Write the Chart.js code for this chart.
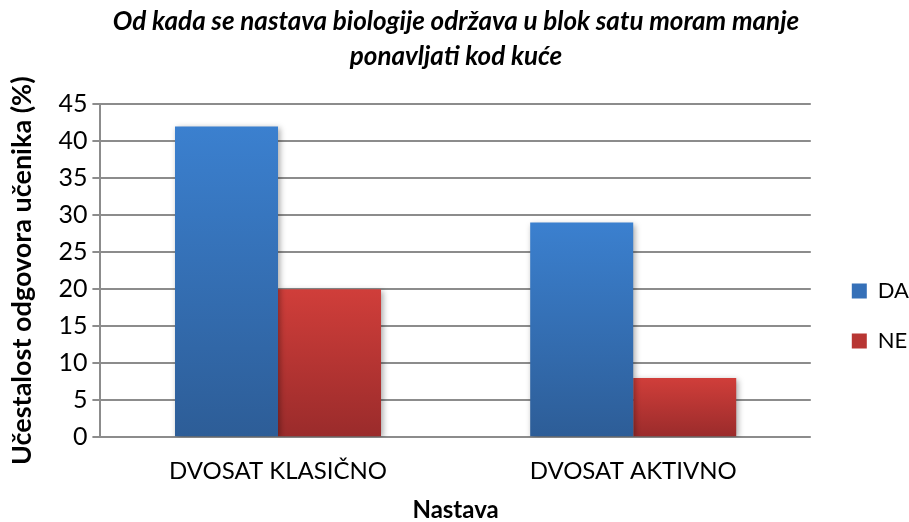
<!DOCTYPE html>
<html>
<head>
<meta charset="utf-8">
<script src="https://cdn.jsdelivr.net/npm/chart.js@4"></script>
<style>
  html, body { margin: 0; padding: 0; background: #fff; }
  #wrap { width: 909px; height: 522px; }
</style>
</head>
<body>
<div id="wrap"><canvas id="myChart" width="909" height="522"></canvas></div>
<script>
var categories = ["DVOSAT KLASIČNO", "DVOSAT AKTIVNO"];
var daValues = [42, 29];
var neValues = [20, 8];
var seriesNames = ["DA", "NE"];

var fontName = "Lato, 'Liberation Sans', sans-serif";

// each bar gets its own top-to-bottom gradient
function makeGradient(top, bottom) {
    return function(context) {
        var chart = context.chart;
        var y = chart.scales && chart.scales.y;
        if (!chart.chartArea || !y || context.raw === undefined) return top;
        var yTop = y.getPixelForValue(context.raw);
        var yBottom = y.getPixelForValue(0);
        if (!isFinite(yTop) || !isFinite(yBottom) || yTop === yBottom) return top;
        var g = chart.ctx.createLinearGradient(0, yTop, 0, yBottom);
        g.addColorStop(0, top);
        g.addColorStop(1, bottom);
        return g;
    };
}

var shadowPlugin = {
    id: "barShadow",
    beforeDatasetsDraw: function(chart) {
        var ctx = chart.ctx;
        ctx.save();
        ctx.shadowColor = "rgba(0,0,0,0.35)";
        ctx.shadowBlur = 6;
        ctx.shadowOffsetX = 2;
        ctx.shadowOffsetY = 2;
    },
    afterDatasetsDraw: function(chart) {
        chart.ctx.restore();
    }
};

// nudge the legend to where the original one sits
var legendMove = {
    id: "legendMove",
    afterLayout: function(chart) {
        var lg = chart.legend;
        lg.left += 13;
        lg.right += 13;
        lg.top += 55;
        lg.bottom += 55;
    }
};

var ctx = document.getElementById("myChart").getContext("2d");
var myChart = new Chart(ctx, {
    type: "bar",
    data: {
        labels: categories,
        datasets: [{
            label: seriesNames[0],
            data: daValues,
            backgroundColor: makeGradient("#3b80cf", "#2d5d97"),
            borderWidth: 0
        }, {
            label: seriesNames[1],
            data: neValues,
            backgroundColor: makeGradient("#d03e3a", "#9a2b2b"),
            borderWidth: 0
        }]
    },
    options: {
        responsive: false,
        animation: false,
        layout: { padding: { left: 6, right: 3, top: 0, bottom: 0 } },
        datasets: {
            bar: { barPercentage: 1.0, categoryPercentage: 0.58 }
        },
        plugins: {
            title: {
                display: true,
                text: ["Od kada se nastava biologije održava u blok satu moram manje", "ponavljati kod kuće"],
                color: "#000",
                font: { family: fontName, size: 26, weight: "bold", style: "italic", lineHeight: 1.35 },
                padding: { top: 4, bottom: 30 }
            },
            legend: {
                position: "right",
                labels: {
                    color: "#000",
                    font: { family: fontName, size: 22 },
                    boxWidth: 15,
                    boxHeight: 15,
                    padding: 28,
                    generateLabels: function(chart) {
                        var fills = ["#3570b8", "#b83633"];
                        return chart.data.datasets.map(function(ds, i) {
                            return { text: ds.label, fillStyle: fills[i], strokeStyle: fills[i], lineWidth: 0, datasetIndex: i, fontColor: "#000" };
                        });
                    }
                }
            },
            tooltip: { enabled: false }
        },
        scales: {
            x: {
                grid: { display: false, drawTicks: false },
                border: { display: false },
                ticks: { color: "#000", font: { family: fontName, size: 24 }, padding: 20 },
                title: {
                    display: true,
                    text: "Nastava",
                    color: "#000",
                    font: { family: fontName, size: 24, weight: "bold", lineHeight: 1.0 },
                    padding: { top: -8, bottom: 0 }
                }
            },
            y: {
                min: 0,
                max: 45,
                ticks: { stepSize: 5, color: "#000", font: { family: fontName, size: 25 }, padding: 5 },
                grid: { color: "#8c8c8c", lineWidth: 2, tickLength: 8 },
                border: { color: "#8c8c8c", width: 2 },
                title: {
                    display: true,
                    text: "Učestalost odgovora učenika (%)",
                    color: "#000",
                    font: { family: fontName, size: 27, weight: "bold" },
                    padding: { top: 0, bottom: 15 }
                }
            }
        }
    },
    plugins: [shadowPlugin, legendMove]
});
</script>
</body>
</html>
